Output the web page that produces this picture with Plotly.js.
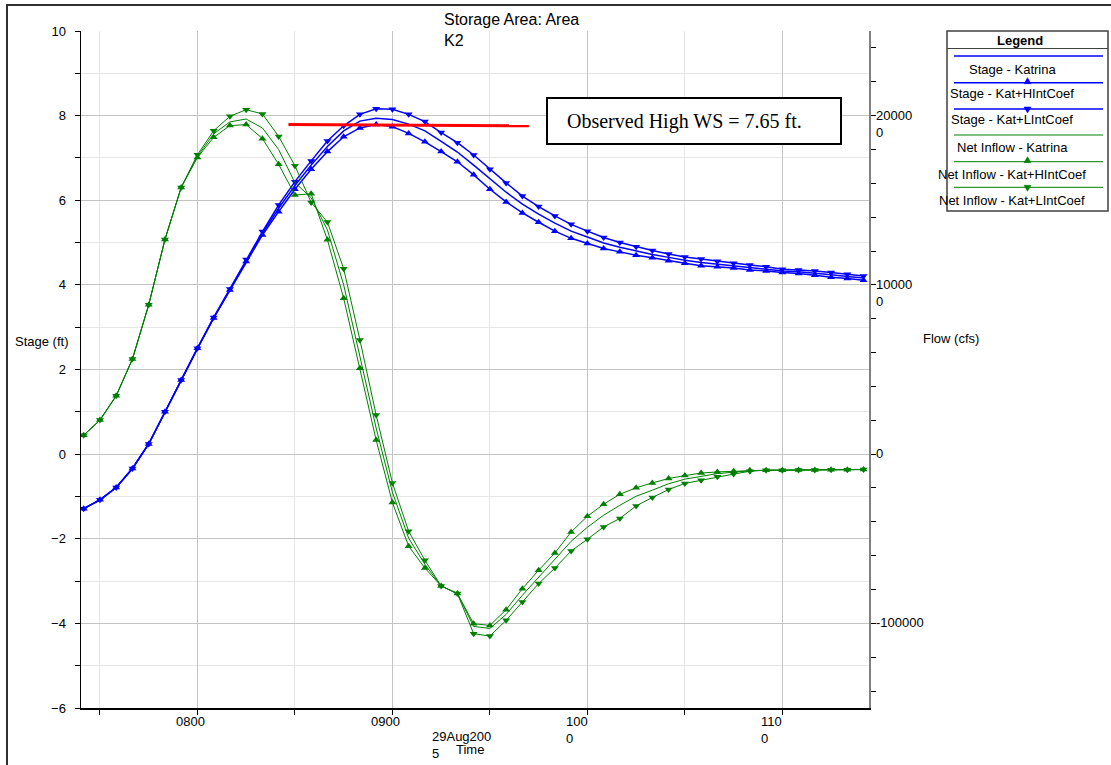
<!DOCTYPE html>
<html><head><meta charset="utf-8">
<script src="https://cdn.plot.ly/plotly-3.0.1.min.js"></script>
<style>html,body{margin:0;padding:0;background:#fff}#chart{width:1111px;height:765px}</style>
</head><body><div id="chart"></div>
<script>
// ---------------- data ----------------
const dateLabel = '2005-08-29';
const times = ['07:25','07:30','07:35','07:40','07:45','07:50','07:55',
  '08:00','08:05','08:10','08:15','08:20','08:25','08:30','08:35','08:40','08:45','08:50','08:55',
  '09:00','09:05','09:10','09:15','09:20','09:25','09:30','09:35','09:40','09:45','09:50','09:55',
  '10:00','10:05','10:10','10:15','10:20','10:25','10:30','10:35','10:40','10:45','10:50','10:55',
  '11:00','11:05','11:10','11:15','11:20','11:25'];

const stageKatrina = [-1.29,-1.08,-0.79,-0.34,0.24,1.00,1.75,
  2.50,3.22,3.89,4.57,5.22,5.81,6.35,6.83,7.27,7.64,7.87,7.94,
  7.91,7.80,7.64,7.39,7.14,6.83,6.50,6.19,5.91,5.67,5.46,5.27,
  5.13,4.99,4.89,4.80,4.72,4.65,4.58,4.53,4.49,4.45,4.41,4.38,
  4.33,4.31,4.28,4.24,4.20,4.16];
const stageHigh = [-1.29,-1.08,-0.79,-0.34,0.24,1.00,1.75,
  2.50,3.22,3.88,4.55,5.18,5.73,6.26,6.73,7.15,7.50,7.71,7.79,
  7.74,7.58,7.38,7.15,6.91,6.60,6.26,5.96,5.70,5.48,5.27,5.10,
  4.98,4.86,4.78,4.70,4.64,4.57,4.51,4.45,4.43,4.40,4.35,4.33,
  4.29,4.27,4.23,4.18,4.15,4.11];
const stageLow = [-1.29,-1.08,-0.79,-0.34,0.24,1.00,1.75,
  2.50,3.23,3.90,4.60,5.26,5.89,6.44,6.93,7.40,7.76,8.03,8.16,
  8.15,8.03,7.86,7.60,7.36,7.07,6.73,6.41,6.10,5.85,5.63,5.43,
  5.27,5.12,5.00,4.90,4.81,4.73,4.66,4.61,4.56,4.51,4.47,4.43,
  4.37,4.35,4.33,4.29,4.25,4.21];

const inflowKatrina = [11200,20100,34500,56200,88200,126800,157600,
  175900,189200,196300,198000,192700,179900,160400,151500,132500,100000,58600,15400,
  -22500,-49700,-65100,-77900,-82400,-101800,-103000,-94700,-83400,-72800,-62700,-51500,
  -43200,-36100,-30200,-24900,-21300,-17500,-14800,-13000,-11500,-10700,-9800,-9500,
  -9500,-9400,-9400,-9300,-9200,-9100];
const inflowHigh = [11200,20100,34500,56200,88200,126800,157600,
  175300,187200,194100,194700,186400,171200,153100,153800,126600,92100,50700,8300,
  -28600,-54400,-67300,-77900,-82400,-100200,-101200,-91900,-79500,-68600,-58400,-46000,
  -36700,-29600,-23700,-19900,-17000,-14400,-12700,-11200,-10500,-10100,-9600,-9500,
  -9500,-9400,-9400,-9300,-9200,-9100];
const inflowLow = [11200,20100,34500,56200,88200,126800,157600,
  176900,191100,199600,203500,201000,187700,170400,148700,137100,109500,67500,23100,
  -17000,-45600,-62700,-77900,-82400,-106100,-107500,-98200,-87400,-76500,-67300,-57200,
  -50300,-43000,-38000,-30600,-25600,-20900,-17300,-15400,-13400,-11800,-10100,-9500,
  -9500,-9400,-9400,-9300,-9200,-9100];

const observedHighX = ['08:28','09:42'];
const observedHighY = [7.79, 7.76];
const observedHighLabel = 'Observed High WS = 7.65 ft.';

const stageTicks = [-6,-4,-2,0,2,4,6,8,10];
const flowTickVals = [-100000,0,100000,200000];
const flowTickText = ['-100000','0','10000<br>0','20000<br>0'];
const timeTickVals = ['08:00','09:00','10:00','11:00'];
const timeTickText = ['0800','0900','100<br>0','110<br>0'];
const legendLabels = ['Stage - Katrina','Stage - Kat+HIntCoef','Stage - Kat+LIntCoef',
  'Net Inflow - Katrina','Net Inflow - Kat+HIntCoef','Net Inflow - Kat+LIntCoef'];
const chartTitle = 'Storage Area: Area<br>K2';
const yTitle = 'Stage (ft)';
const y2Title = 'Flow (cfs)';
const xTitleDate = '29Aug200<br>5';
const xTitle = 'Time';

// ---------------- layout geometry ----------------
const FW = 1111, FH = 765;
const PL = 81, PT = 31, PW = 788, PH = 677;
const px = x => (x - PL) / PW;
const py = y => (PT + PH - y) / PH;
const FONT = 'Liberation Sans, Arial, sans-serif';
const BLUE = '#0000ff', GREEN = '#008000';
const toDate = t => dateLabel + ' ' + t;
const xs = times.map(toDate);

const traces = [
  {x: xs, y: stageKatrina, name: legendLabels[0], mode: 'lines', line: {color: BLUE, width: 1.5}, yaxis: 'y'},
  {x: xs, y: stageHigh, name: legendLabels[1], mode: 'lines+markers', line: {color: BLUE, width: 1.5},
   marker: {symbol: 'triangle-up', size: 7, color: BLUE}, yaxis: 'y'},
  {x: xs, y: stageLow, name: legendLabels[2], mode: 'lines+markers', line: {color: BLUE, width: 1.5},
   marker: {symbol: 'triangle-down', size: 7, color: BLUE}, yaxis: 'y'},
  {x: xs, y: inflowKatrina, name: legendLabels[3], mode: 'lines', line: {color: GREEN, width: 1}, yaxis: 'y2'},
  {x: xs, y: inflowHigh, name: legendLabels[4], mode: 'lines+markers', line: {color: GREEN, width: 1},
   marker: {symbol: 'triangle-up', size: 7, color: GREEN}, yaxis: 'y2'},
  {x: xs, y: inflowLow, name: legendLabels[5], mode: 'lines+markers', line: {color: GREEN, width: 1},
   marker: {symbol: 'triangle-down', size: 7, color: GREEN}, yaxis: 'y2'}
];

const annotations = [];
const shapes = [];
function txt(text, x, y, o) {
  annotations.push(Object.assign({text: text, x: px(x), y: py(y), xref: 'paper', yref: 'paper',
    showarrow: false, xanchor: 'left', yanchor: 'middle', align: 'left', borderpad: 0,
    font: {family: FONT, size: 13, color: '#000'}}, o || {}));
}

// title and axis titles
txt(chartTitle, 443, 10, {yanchor: 'top', font: {family: FONT, size: 16, color: '#000'}});
txt(yTitle, 14, 341);
txt(y2Title, 922, 338);
txt(xTitleDate, 431, 728, {yanchor: 'top'});
txt(xTitle, 455, 749);

// x tick labels
timeTickVals.forEach((v, i) => {
  annotations.push({text: timeTickText[i], x: toDate(v), xref: 'x', y: py(713), yref: 'paper',
    xanchor: 'left', xshift: -22, yanchor: 'top', align: 'left', showarrow: false, borderpad: 0,
    font: {family: FONT, size: 13, color: '#000'}});
});
// right (flow) tick labels
flowTickVals.forEach((v, i) => {
  annotations.push({text: flowTickText[i], x: px(875), xref: 'paper', y: v, yref: 'y2',
    xanchor: 'left', yanchor: 'top', yshift: 9, align: 'left', showarrow: false, borderpad: 0,
    font: {family: FONT, size: 13, color: '#000'}});
});

// observed high water line and label box
shapes.push({type: 'line', xref: 'x', yref: 'y', x0: toDate(observedHighX[0]), y0: observedHighY[0],
  x1: toDate(observedHighX[1]), y1: observedHighY[1], line: {color: '#ff0000', width: 3}, layer: 'above'});
shapes.push({type: 'rect', xref: 'paper', yref: 'paper', x0: px(547), x1: px(841), y0: py(98), y1: py(144),
  line: {color: '#000', width: 2}, fillcolor: '#fff', layer: 'above'});
annotations.push({text: observedHighLabel, x: px(684.5), y: py(121.7), xref: 'paper', yref: 'paper',
  xanchor: 'center', yanchor: 'middle', showarrow: false,
  font: {family: 'Liberation Serif, Times New Roman, serif', size: 20, color: '#000'}});

// outer frame
shapes.push({type: 'rect', xref: 'paper', yref: 'paper', x0: px(7), x1: px(1130), y0: py(5), y1: py(790),
  line: {color: '#303030', width: 2}, layer: 'above'});

// custom legend
shapes.push({type: 'rect', xref: 'paper', yref: 'paper', x0: px(947), x1: px(1108), y0: py(31), y1: py(211),
  line: {color: '#404040', width: 1.5}, fillcolor: '#fff', layer: 'above'});
shapes.push({type: 'line', xref: 'paper', yref: 'paper', x0: px(947), x1: px(1108), y0: py(48.5), y1: py(48.5),
  line: {color: '#404040', width: 1}, layer: 'above'});
txt('<b>Legend</b>', 1019.5, 40, {xanchor: 'center', align: 'center'});
const legLineY = [56, 82.7, 109, 135, 161.7, 187.3];
const legTextY = [69, 94, 120, 147.3, 174, 200];
const legColor = [BLUE, BLUE, BLUE, GREEN, GREEN, GREEN];
const legSym = [null, 'up', 'down', null, 'up', 'down'];
function tri(cx, cy, dir, color) {
  let p;
  if (dir === 'up') p = [[cx - 3.5, cy + 1], [cx + 3.5, cy + 1], [cx, cy - 5]];
  else p = [[cx - 3.5, cy - 2], [cx + 3.5, cy - 2], [cx, cy + 4]];
  const path = 'M ' + p.map(q => px(q[0]) + ',' + py(q[1])).join(' L ') + ' Z';
  shapes.push({type: 'path', xref: 'paper', yref: 'paper', path: path, fillcolor: color,
    line: {color: color, width: 0.5}, layer: 'above'});
}
legendLabels.forEach((lab, i) => {
  shapes.push({type: 'line', xref: 'paper', yref: 'paper', x0: px(954), x1: px(1103),
    y0: py(legLineY[i]), y1: py(legLineY[i]),
    line: {color: legColor[i], width: i < 3 ? 1.5 : 1}, layer: 'above'});
  if (legSym[i]) tri(1027.5, legLineY[i], legSym[i], legColor[i]);
  txt(lab, 1012, legTextY[i], {xanchor: 'center', align: 'center'});
});

const layout = {
  width: FW, height: FH,
  margin: {l: PL, r: FW - PL - PW, t: PT, b: FH - PT - PH, pad: 0},
  paper_bgcolor: '#fff', plot_bgcolor: '#fff',
  showlegend: false,
  font: {family: FONT, size: 13, color: '#000'},
  xaxis: {
    type: 'date', range: [toDate('07:24:10'), toDate('11:26:40')],
    tickmode: 'array', tickvals: timeTickVals.map(toDate), showticklabels: false,
    ticks: 'outside', ticklen: 5, tickcolor: '#000',
    showgrid: true, gridcolor: '#c4c4c4', gridwidth: 1,
    minor: {tick0: toDate('07:30'), dtick: 1800000, ticks: 'outside', ticklen: 5, tickcolor: '#000',
            showgrid: true, gridcolor: '#e6e6e6'},
    showline: true, linecolor: '#000', linewidth: 1.5, zeroline: false, automargin: false
  },
  yaxis: {
    range: [-6, 10], tickmode: 'array', tickvals: stageTicks,
    ticks: 'outside', ticklen: 5, tickcolor: '#000', ticklabelstandoff: 6,
    tickfont: {family: FONT, size: 13, color: '#000'},
    showgrid: true, gridcolor: '#c4c4c4', gridwidth: 1,
    minor: {dtick: 1, tick0: 0, ticks: 'outside', ticklen: 5, tickcolor: '#000', showgrid: true, gridcolor: '#e6e6e6'},
    showline: true, linecolor: '#000', linewidth: 1.5, zeroline: false, automargin: false
  },
  yaxis2: {
    overlaying: 'y', side: 'right', range: [-150000, 250000],
    tickmode: 'array', tickvals: flowTickVals, showticklabels: false,
    ticks: 'outside', ticklen: 5, tickcolor: '#000',
    minor: {dtick: 20000, tick0: 0, ticks: 'outside', ticklen: 5, tickcolor: '#000', showgrid: false},
    showgrid: false, showline: true, linecolor: '#808080', linewidth: 2, zeroline: false, automargin: false
  },
  annotations: annotations,
  shapes: shapes
};

Plotly.newPlot('chart', traces, layout, {displayModeBar: false, staticPlot: true});
</script>
</body></html>
